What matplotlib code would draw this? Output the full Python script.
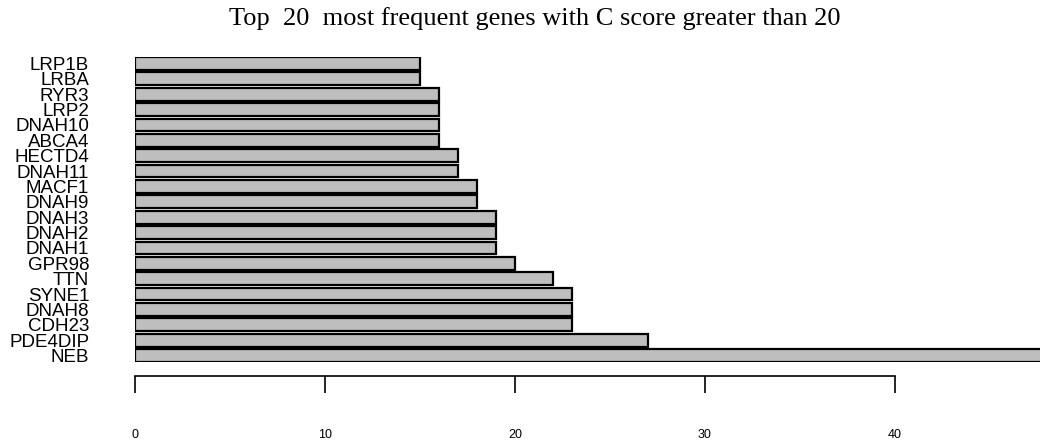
import numpy as np
import matplotlib
matplotlib.use("Agg")
import matplotlib.pyplot as plt

# genes, bottom to top (as drawn by R barplot horiz)
genes = ['NEB', 'PDE4DIP', 'CDH23', 'DNAH8', 'SYNE1', 'TTN', 'GPR98',
         'DNAH1', 'DNAH2', 'DNAH3', 'DNAH9', 'MACF1', 'DNAH11', 'HECTD4',
         'ABCA4', 'DNAH10', 'LRP2', 'RYR3', 'LRBA', 'LRP1B']
counts = [48, 27, 23, 23, 23, 22, 20,
          19, 19, 19, 18, 18, 17, 17,
          16, 16, 16, 16, 15, 15]
xticks = [0, 10, 20, 30, 40]

fig = plt.figure(figsize=(10.4, 4.41), dpi=100)
ax = fig.add_axes([135/1040, (441-362)/441, 1 - 135/1040, (362-57)/441])

ypos = 0.7 + 1.2*np.arange(len(genes))
ax.barh(ypos, counts, height=1.0, color='#bebebe', edgecolor='black', linewidth=1.6)
ax.set_xlim(0, (1040-135)/19.0)
ax.set_ylim(0.2, 24.0)

ax.set_yticks(ypos)
ax.set_yticklabels(genes, family='Liberation Sans', fontsize=13.5)
ax.tick_params(axis='y', length=0, pad=33)

for s in ['top', 'right', 'left']:
    ax.spines[s].set_visible(False)
ax.spines['bottom'].set_position(('outward', 10))
ax.spines['bottom'].set_bounds(0, 40)
ax.spines['bottom'].set_linewidth(1.2)
ax.set_xticks(xticks)
ax.set_xticklabels([str(t) for t in xticks], family='Liberation Sans', fontsize=9)
ax.tick_params(axis='x', length=12, width=1.2, pad=26)

fig.text(535/1040, 1 - 19/441, 'Top  20  most frequent genes with C score greater than 20',
         family='Liberation Serif', fontsize=19, ha='center', va='center')

fig.savefig('out.png', dpi=100)
